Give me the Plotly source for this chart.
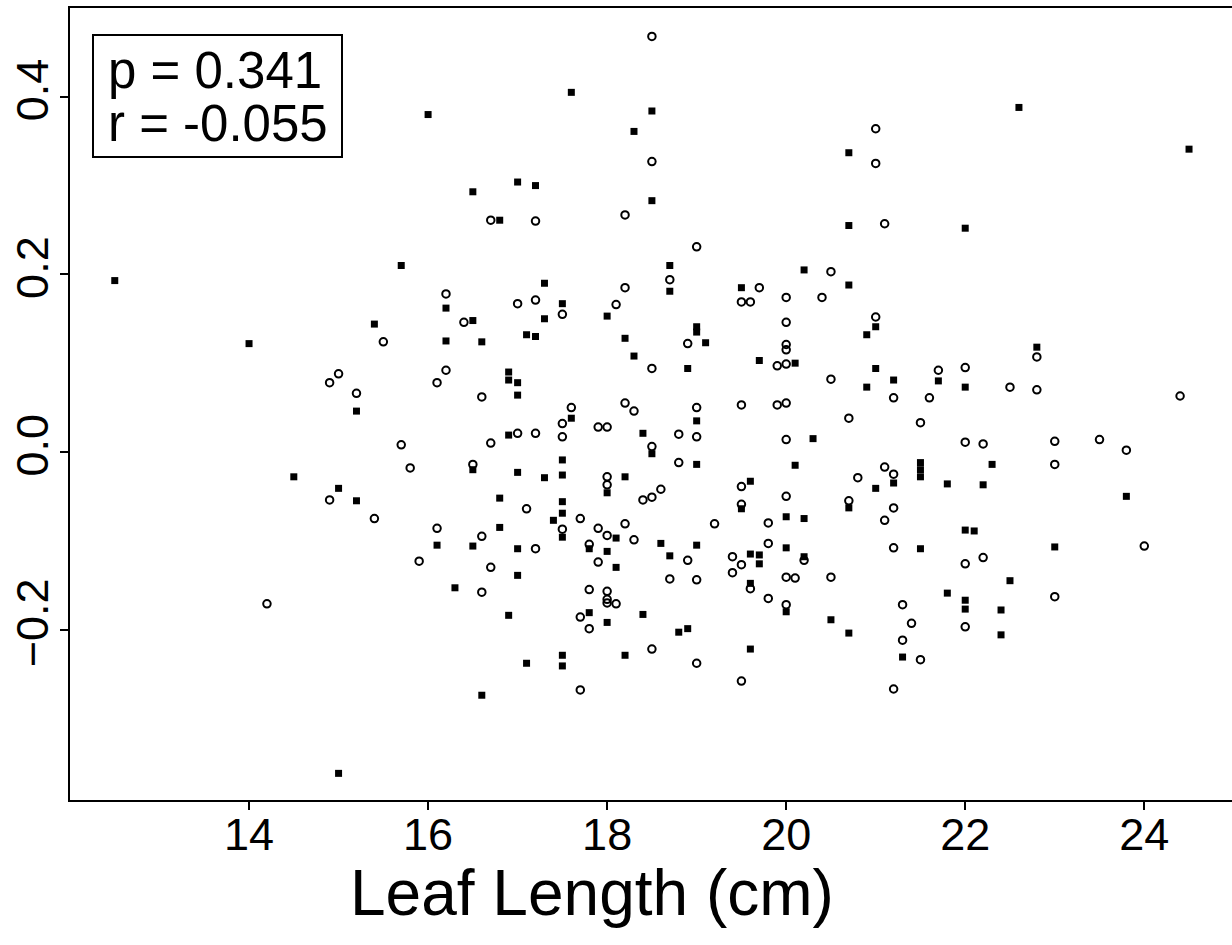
import plotly.graph_objects as go

# Filled squares group
sq_x = [12.5, 14.0, 14.5, 15.0, 15.2, 15.2, 15.0, 15.4, 15.7, 16.0, 16.1, 16.2, 16.2, 16.3,
        16.5, 16.5, 16.5, 16.5, 16.6, 16.6, 16.8, 16.8, 16.8, 16.9, 16.9, 16.9, 16.9,
        17.0, 17.0, 17.0, 17.0, 17.0, 17.0, 17.1, 17.1, 17.2, 17.2, 17.3, 17.3, 17.3, 17.4,
        17.5, 17.5, 17.5, 17.5, 17.5, 17.5, 17.5, 17.5, 17.6, 17.6, 17.8, 17.8,
        18.0, 18.0, 18.0, 18.0, 18.1, 18.1, 18.2, 18.2, 18.2, 18.3, 18.3, 18.4, 18.4,
        18.5, 18.5, 18.5, 18.6, 18.7, 18.7, 18.7, 18.8, 18.9, 18.9,
        19.0, 19.0, 19.0, 19.0, 19.0, 19.1, 19.5, 19.5, 19.6, 19.6, 19.6, 19.6,
        19.7, 19.7, 19.7, 20.0, 20.0, 20.0, 20.1, 20.1, 20.2, 20.2, 20.2, 20.3, 20.5,
        20.7, 20.7, 20.7, 20.7, 20.7, 20.9, 20.9, 21.0, 21.0, 21.0, 21.2, 21.2, 21.3,
        21.5, 21.5, 21.5, 21.5, 21.7, 21.8, 21.8, 22.0, 22.0, 22.0, 22.0, 22.0, 22.1,
        22.2, 22.3, 22.4, 22.4, 22.5, 22.6, 22.8, 23.0, 23.8, 24.5]
sq_y = [0.193, 0.122, -0.028, -0.041, 0.046, -0.055, -0.362, 0.144, 0.210, 0.380, -0.105, 0.162, 0.125, -0.153,
        0.293, 0.148, -0.020, -0.106, 0.124, -0.274, 0.261, -0.052, -0.085, 0.090, 0.081, 0.019, -0.184,
        0.304, 0.078, 0.064, -0.023, -0.109, -0.139, 0.132, -0.238, 0.300, 0.130, 0.190, 0.150, -0.029, -0.077,
        0.167, -0.009, -0.026, -0.056, -0.069, -0.096, -0.229, -0.241, 0.405, 0.038, -0.109, -0.181,
        0.153, -0.046, -0.112, -0.192, -0.097, -0.130, 0.128, -0.028, -0.229, 0.361, 0.108, 0.021, -0.183,
        0.384, 0.283, -0.002, -0.103, 0.210, 0.181, -0.117, -0.203, 0.094, -0.199,
        0.141, 0.135, 0.035, -0.014, -0.105, 0.123, 0.185, -0.064, -0.033, -0.115, -0.148, -0.222,
        0.103, -0.116, -0.126, -0.073, -0.108, -0.180, 0.100, -0.015, 0.205, -0.075, -0.118, 0.015, -0.189,
        0.337, 0.255, 0.188, -0.063, -0.204, 0.132, 0.073, 0.141, 0.094, -0.041, 0.081, -0.035, -0.231,
        -0.012, -0.020, -0.028, -0.109, 0.080, -0.036, -0.159, 0.252, 0.073, -0.088, -0.167, -0.177, -0.089,
        -0.037, -0.014, -0.178, -0.206, -0.145, 0.388, 0.118, -0.107, -0.050, 0.341]

# Open circles group
ci_x = [14.2, 14.9, 15.0, 14.9, 15.2, 15.4, 15.5, 15.7, 15.8, 15.9, 16.1, 16.1, 16.2, 16.2, 16.4,
        16.5, 16.6, 16.6, 16.6, 16.7, 16.7, 16.7, 17.0, 17.0, 17.1, 17.2, 17.2, 17.2, 17.2,
        17.5, 17.5, 17.5, 17.5, 17.6, 17.7, 17.7, 17.7, 17.8, 17.8, 17.8, 17.9, 17.9, 17.9,
        18.0, 18.0, 18.0, 18.0, 18.0, 18.0, 18.0, 18.1, 18.1, 18.2, 18.2, 18.2, 18.2,
        18.3, 18.3, 18.4, 18.5, 18.5, 18.5, 18.5, 18.5, 18.5, 18.6, 18.7, 18.7,
        18.8, 18.8, 18.9, 18.9, 19.0, 19.0, 19.0, 19.0, 19.0, 19.2, 19.4, 19.4,
        19.5, 19.5, 19.5, 19.5, 19.5, 19.5, 19.6, 19.6, 19.7, 19.8, 19.8, 19.8, 19.9, 19.9,
        20.0, 20.0, 20.0, 20.0, 20.0, 20.0, 20.0, 20.0, 20.0, 20.0, 20.1, 20.2, 20.4,
        20.5, 20.5, 20.5, 20.7, 20.7, 20.8, 21.0, 21.0, 21.0, 21.1, 21.1, 21.1,
        21.2, 21.2, 21.2, 21.2, 21.2, 21.3, 21.3, 21.4, 21.5, 21.5, 21.6, 21.7,
        22.0, 22.0, 22.0, 22.0, 22.2, 22.2, 22.5, 22.8, 22.8, 23.0, 23.0, 23.0,
        23.5, 23.8, 24.0, 24.4]
ci_y = [-0.171, 0.078, 0.088, -0.054, 0.066, -0.075, 0.124, 0.008, -0.018, -0.123, 0.078, -0.086, 0.178, 0.092, 0.146,
        -0.014, 0.062, -0.095, -0.158, 0.261, 0.010, -0.130, 0.167, 0.021, -0.064, 0.260, 0.171, 0.021, -0.109,
        0.155, 0.032, 0.017, -0.087, 0.050, -0.075, -0.186, -0.268, -0.104, -0.155, -0.199, 0.028, -0.086, -0.124,
        0.028, -0.028, -0.037, -0.094, -0.157, -0.166, -0.170, 0.166, -0.171, 0.267, 0.185, 0.055, -0.081,
        0.046, -0.099, -0.054, 0.468, 0.327, 0.094, 0.006, -0.051, -0.222, -0.042, 0.194, -0.143,
        0.020, -0.012, 0.122, -0.122, 0.231, 0.050, 0.017, -0.144, -0.238, -0.081, -0.118, -0.136,
        0.169, 0.053, -0.039, -0.059, -0.127, -0.258, 0.169, -0.154, 0.185, -0.080, -0.103, -0.165, 0.097, 0.053,
        0.174, 0.146, 0.121, 0.115, 0.099, 0.055, 0.014, -0.050, -0.141, -0.172, -0.142, -0.122, 0.174,
        0.203, 0.082, -0.141, 0.038, -0.055, -0.029, 0.364, 0.325, 0.152, 0.257, -0.017, -0.077,
        0.061, -0.025, -0.063, -0.108, -0.267, -0.172, -0.212, -0.193, 0.033, -0.234, 0.061, 0.092,
        0.095, 0.011, -0.126, -0.197, 0.009, -0.119, 0.073, 0.107, 0.070, 0.012, -0.014, -0.163,
        0.014, 0.002, -0.106, 0.063]

x_ticks = [14, 16, 18, 20, 22, 24]
y_ticks = [-0.2, 0.0, 0.2, 0.4]
y_tick_text = ["\u22120.2", "0.0", "0.2", "0.4"]

stats_text = ["p = 0.341", "r = -0.055"]
x_title = "Leaf Length (cm)"

FONT = "Liberation Sans, Arial, Helvetica, sans-serif"

# Full-window figure; the page's body margin is removed by a post script.
W, H = 1232, 945
ML, MT, MB = 70, 8, 145
PW, PH = W - ML, H - MT - MB


def px(xp):
    return (xp - ML) / PW


def py(yp):
    return (H - MB - yp) / PH


fig = go.Figure()
fig.add_trace(go.Scatter(
    x=sq_x, y=sq_y, mode="markers",
    marker=dict(symbol="square", size=7, color="black", line=dict(width=0)),
    showlegend=False, hoverinfo="skip"))
fig.add_trace(go.Scatter(
    x=ci_x, y=ci_y, mode="markers",
    marker=dict(symbol="circle-open", size=7.5, color="black", line=dict(width=2, color="black")),
    showlegend=False, hoverinfo="skip"))

fig.update_layout(
    width=W, height=H,
    margin=dict(l=ML, r=0, t=MT, b=MB, pad=0),
    paper_bgcolor="white", plot_bgcolor="white",
    font=dict(family=FONT, color="black"),
    xaxis=dict(range=[12.0, 24.98], tickvals=x_ticks, ticktext=[str(v) for v in x_ticks],
               showgrid=False, zeroline=False, showline=True, linecolor="black", linewidth=2,
               mirror=True, ticks="outside", ticklen=8, tickwidth=2, tickcolor="black",
               ticklabelstandoff=-14,
               tickfont=dict(size=45, family=FONT)),
    yaxis=dict(range=[-0.392, 0.5], tickvals=y_ticks, ticktext=y_tick_text,
               showgrid=False, zeroline=False, showline=True, linecolor="black", linewidth=2,
               mirror=False, ticks="outside", ticklen=8, tickwidth=2, tickcolor="black",
               tickangle=-90, ticklabelstandoff=-6, tickfont=dict(size=45, family=FONT)),
)

# stats box
fig.add_shape(type="rect", xref="paper", yref="paper",
              x0=px(93), x1=px(342), y0=py(157), y1=py(35),
              line=dict(color="black", width=2), fillcolor="white", layer="above")
for i, t in enumerate(stats_text):
    fig.add_annotation(text=t, xref="paper", yref="paper",
                       x=px(106), y=py(70 + 53 * i),
                       xanchor="left", yanchor="middle", showarrow=False,
                       font=dict(size=51, family=FONT, color="black"))

fig.add_annotation(text=x_title, xref="paper", yref="paper",
                   x=px(592), y=py(893),
                   xanchor="center", yanchor="middle", showarrow=False,
                   font=dict(size=64, family=FONT, color="black"))

fig.write_html(
    "out.html",
    config={"displayModeBar": False},
    post_script="document.body.style.margin='0';document.body.style.overflow='hidden';",
)
